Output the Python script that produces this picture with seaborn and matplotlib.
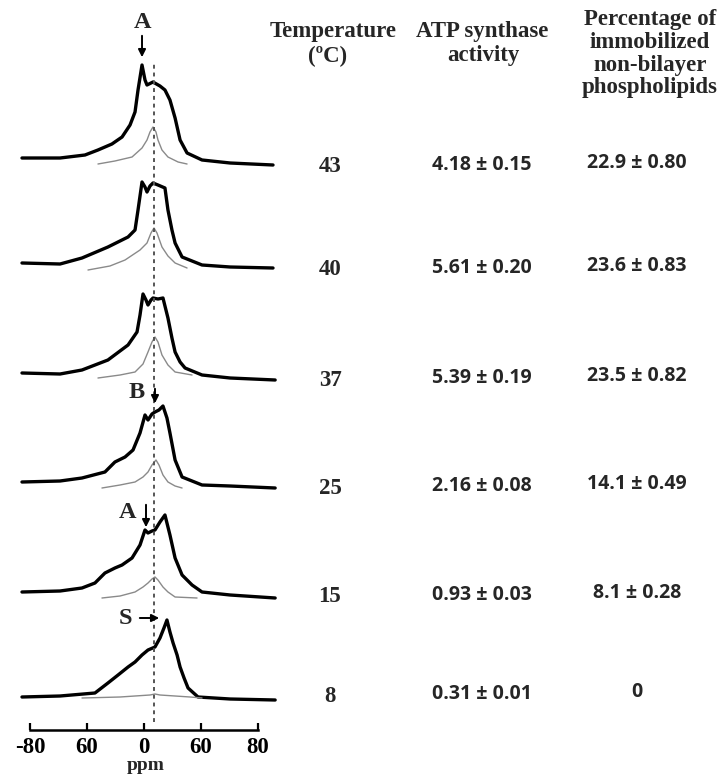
import numpy as np
import matplotlib
matplotlib.use("Agg")
import matplotlib.pyplot as plt
import seaborn as sns

# -------------------------------
# Data (ppm, intensity above baseline, a.u.)
# -------------------------------
temps = [43, 40, 37, 25, 15, 8]
atp_mean = [4.18, 5.61, 5.39, 2.16, 0.93, 0.31]
atp_err = [0.15, 0.20, 0.19, 0.08, 0.03, 0.01]
pct_mean = [22.9, 23.6, 23.5, 14.1, 8.1, 0]
pct_err = [0.80, 0.83, 0.82, 0.49, 0.28, None]

ppm_43 = [-85.6, -58.9, -41.4, -32.3, -22.5, -15.4, -9.8, -6.3, -4.2, -1.4, 0.7, 2.1, 6.3, 11.2, 14.7, 18.2, 21.8, 25.3, 30.2, 40.7, 60.4, 90.5]
int_43 = [2, 2, 5, 10, 16, 23, 35, 48, 70, 95, 80, 75, 78, 74, 70, 60, 42, 20, 7, 0, -3, -5]
gppm_43 = [-32.3, -20.4, -8.4, -1.4, 2.1, 4.2, 6.3, 8.4, 9.8, 12.6, 16.8, 23.9, 30.2]
gint_43 = [-4, -1, 3, 12, 20, 28, 33, 28, 20, 10, 3, -2, -4]

ppm_40 = [-85.6, -58.9, -43.5, -25.3, -11.2, -6.3, -4.2, -1.4, 0.7, 2.1, 4.2, 6.3, 9.8, 14.7, 16.8, 19.6, 21.8, 26.7, 40.7, 60.4, 90.5]
int_40 = [2, 1, 7, 18, 28, 35, 55, 83, 78, 73, 79, 82, 80, 77, 55, 35, 22, 8, 0, -2, -3]
gppm_40 = [-39.3, -23.9, -13.3, -2.8, 2.1, 4.9, 7.0, 9.1, 12.6, 16.8, 21.8, 30.2]
gint_40 = [-5, -1, 5, 15, 22, 32, 37, 32, 18, 9, 2, -3]

ppm_37 = [-85.6, -58.9, -43.5, -25.3, -11.2, -4.9, -2.8, -0.7, 1.4, 2.8, 4.9, 6.3, 9.8, 13.3, 16.8, 19.6, 21.8, 25.3, 28.8, 40.7, 60.4, 92.0]
int_37 = [2, 1, 5, 15, 30, 43, 60, 81, 75, 70, 75, 77, 76, 77, 57, 37, 23, 13, 7, 0, -3, -5]
gppm_37 = [-32.3, -16.8, -6.3, -0.7, 2.8, 5.6, 7.7, 9.8, 12.6, 16.8, 21.8, 33.7]
gint_37 = [-3, 0, 3, 11, 23, 33, 38, 33, 20, 10, 3, 0]

ppm_25 = [-85.6, -58.9, -43.5, -27.4, -20.4, -13.3, -7.7, -2.8, 0.7, 2.8, 5.6, 7.7, 10.5, 13.3, 16.1, 18.2, 21.8, 26.7, 40.7, 60.4, 92.0]
int_25 = [1, 2, 5, 11, 21, 26, 33, 50, 68, 63, 69, 71, 73, 77, 65, 50, 23, 6, -2, -3, -5]
gppm_25 = [-29.5, -16.8, -6.3, -0.7, 2.8, 5.6, 8.4, 10.5, 13.3, 16.8, 21.8, 26.7]
gint_25 = [-5, -2, 1, 6, 11, 18, 23, 18, 8, 1, -3, -5]

ppm_15 = [-85.6, -58.9, -43.5, -34.4, -27.4, -20.4, -15.4, -8.4, -2.8, 0.7, 2.8, 5.6, 7.7, 11.2, 14.7, 18.2, 21.8, 26.7, 33.7, 40.7, 60.4, 92.0]
int_15 = [0, 1, 4, 9, 19, 24, 27, 34, 47, 62, 59, 61, 62, 70, 77, 57, 34, 17, 7, 0, -3, -6]
gppm_15 = [-29.5, -16.8, -6.3, -0.7, 2.8, 5.6, 7.7, 9.8, 13.3, 16.8, 21.8, 37.2]
gint_15 = [-6, -4, 0, 5, 9, 13, 15, 12, 5, 0, -5, -6]

ppm_8 = [-85.6, -58.9, -34.4, -25.3, -18.2, -11.2, -6.3, -1.4, 2.8, 7.7, 11.2, 14.0, 16.1, 18.2, 20.4, 23.2, 25.3, 28.1, 30.9, 37.9, 60.4, 92.0]
int_8 = [0, 1, 4, 14, 22, 30, 35, 42, 47, 50, 59, 69, 77, 65, 54, 42, 30, 19, 9, 0, -2, -3]
gppm_8 = [-43.5, -16.8, 4.2, 7.7, 11.2, 32.3, 40.7]
gint_8 = [-1, 0, 2, 3, 2, 0, -1]

tick_pos = [-80, -40, 0, 40, 80]
tick_labels = ["-80", "60", "0", "60", "80"]

black_traces = [(ppm_43, int_43), (ppm_40, int_40), (ppm_37, int_37),
                (ppm_25, int_25), (ppm_15, int_15), (ppm_8, int_8)]
gray_traces = [(gppm_43, gint_43), (gppm_40, gint_40), (gppm_37, gint_37),
               (gppm_25, gint_25), (gppm_15, gint_15), (gppm_8, gint_8)]

# stacking offsets of each spectrum (layout)
offsets = [160, 265, 375, 483, 592, 697]

W, H = 727, 779
SERIF = ["Liberation Serif", "DejaVu Serif"]
SANS = ["Open Sans", "DejaVu Sans"]


def fx(px):
    return px / W


def fy(py):
    return 1 - py / H


sns.set_theme(style="white")
plt.rcParams["font.family"] = SERIF

fig = plt.figure(figsize=(W / 100, H / 100), dpi=100)
ax = fig.add_axes([fx(15), fy(730), fx(280) - fx(15), fy(0) - fy(730)])

for (xs, ys), off in zip(black_traces, offsets):
    sns.lineplot(x=np.array(xs), y=np.array(ys) - off, ax=ax, color="black",
                 linewidth=2.4, estimator=None, sort=False)
for (xs, ys), off in zip(gray_traces, offsets):
    sns.lineplot(x=np.array(xs), y=np.array(ys) - off, ax=ax, color="#8a8a8a",
                 linewidth=1.0, estimator=None, sort=False)

# reference line
ax.vlines(7, -722, -62, colors="#555555", linestyles=(0, (2, 2)), linewidth=1.4)

ax.set_xlim(-90.5, 95.4)
ax.set_ylim(-730, 0)
for s in ["top", "left", "right"]:
    ax.spines[s].set_visible(False)
ax.spines["bottom"].set_bounds(-80, 80)
ax.spines["bottom"].set_linewidth(1.8)
ax.spines["bottom"].set_color("black")
ax.set_yticks([])
ax.set_xticks(tick_pos)
ax.set_xticklabels(tick_labels, fontsize=16.5, fontweight="bold", family=SERIF)
ax.tick_params(axis="x", direction="in", length=5, width=1.6, pad=5, colors="black", bottom=True)
fig.text(fx(146), fy(765), "ppm", fontsize=14, fontweight="bold",
         ha="center", va="center", family=SERIF)

# peak markers
arrow = dict(arrowstyle="-|>", color="black", lw=1.4, mutation_scale=11)
lab = dict(fontsize=17.5, fontweight="bold", ha="center", va="center")
ax.text(-0.7, -22, "A", **lab)
ax.annotate("", xy=(-1.4, -60), xytext=(-1.4, -33), arrowprops=arrow)
ax.text(-4.9, -392, "B", **lab)
ax.annotate("", xy=(7.7, -406), xytext=(7.7, -386), arrowprops=arrow)
ax.text(-11.9, -513, "A", **lab)
ax.annotate("", xy=(1.4, -530), xytext=(1.4, -502), arrowprops=arrow)
ax.text(-13.3, -618, "S", **lab)
ax.annotate("", xy=(12.6, -618), xytext=(-4.9, -618), arrowprops=arrow)

# -------------------------------
# Table on the right
# -------------------------------
hdr = dict(fontsize=16.5, fontweight="bold", ha="center", va="center", family=SERIF)
fig.text(fx(333), fy(32), "Temperature", **hdr)
fig.text(fx(328), fy(56), "(\u00baC)", **hdr)
fig.text(fx(482), fy(32), "ATP synthase", **hdr)
fig.text(fx(483), fy(56), "activity", **hdr)
for i, line in enumerate(["Percentage of", "immobilized", "non-bilayer", "phospholipids"]):
    fig.text(fx(650), fy(20 + 22.5 * i), line, **hdr)

row_y = [166, 269, 379, 487, 596, 695]
for t, am, ae, pm, pe, y in zip(temps, atp_mean, atp_err, pct_mean, pct_err, row_y):
    fig.text(fx(330), fy(y + 1), str(t), fontsize=16.5, fontweight="bold",
             ha="center", va="center", family=SERIF)
    fig.text(fx(482), fy(y - 1), f"{am:.2f} \u00b1 {ae:.2f}", fontsize=14,
             fontweight="bold", ha="center", va="center", family=SANS)
    ptxt = "0" if pe is None else f"{pm:.1f} \u00b1 {pe:.2f}"
    fig.text(fx(637), fy(y - 3), ptxt, fontsize=14, fontweight="bold",
             ha="center", va="center", family=SANS)

fig.savefig("out.png", dpi=100)
